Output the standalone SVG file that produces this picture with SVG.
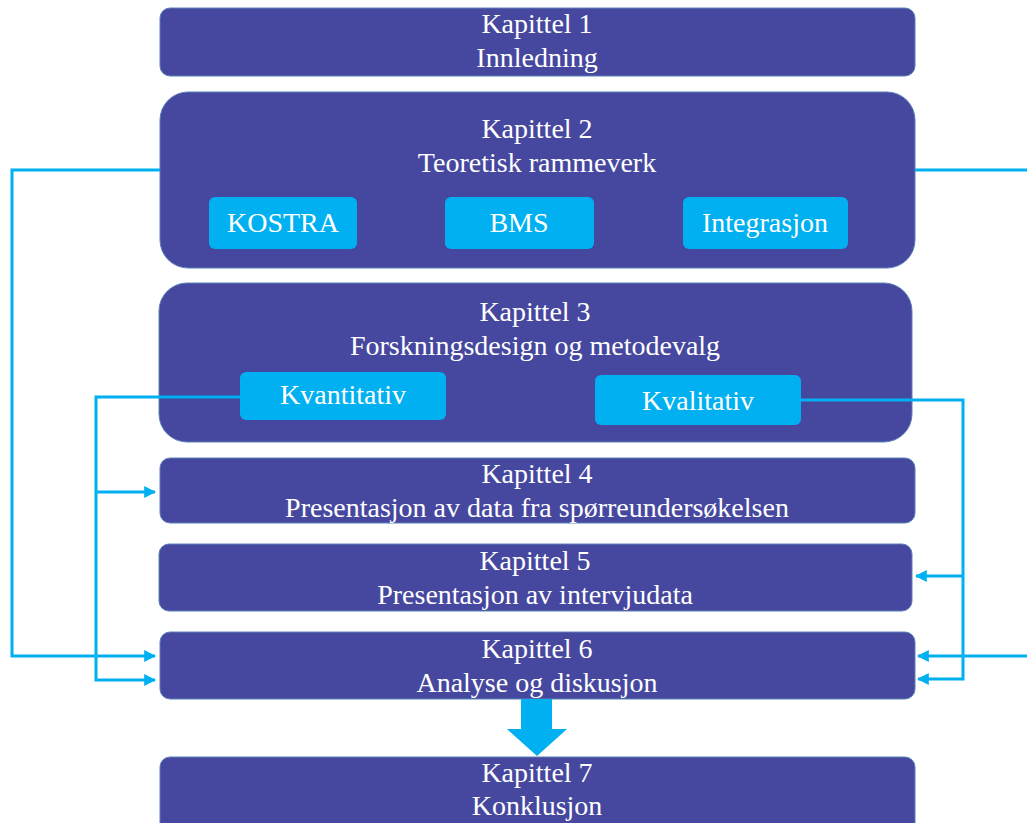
<svg xmlns="http://www.w3.org/2000/svg" width="1027" height="823" viewBox="0 0 1027 823">
<style>
.box{fill:#4648A0;stroke:#5A80B8;stroke-width:1}
.sub{fill:#00B0F0}
.t{font-family:"Liberation Serif","Times New Roman",serif;font-size:28px;fill:#fff;text-anchor:middle}
.c{fill:none;stroke:#00B0F0;stroke-width:3}
</style>
<defs>
<marker id="ah" viewBox="0 0 10 10" refX="9" refY="5" markerWidth="4" markerHeight="4" markerUnits="strokeWidth" orient="auto">
<path d="M0,0 L10,5 L0,10 Z" fill="#00B0F0"/>
</marker>
</defs>
<rect width="1027" height="823" fill="#fff"/>
<g id="k1">
<rect class="box" x="160" y="8" width="755" height="68" rx="10"/>
<text class="t" x="537" y="33">Kapittel 1</text>
<text class="t" x="537" y="67">Innledning</text>
</g>
<g id="k2">
<rect class="box" x="160" y="92" width="755" height="176" rx="28"/>
<text class="t" x="537" y="138">Kapittel 2</text>
<text class="t" x="537" y="172">Teoretisk rammeverk</text>
<g id="kostra"><rect class="sub" x="209" y="197" width="148" height="52" rx="6"/><text class="t" x="283" y="232">KOSTRA</text></g>
<g id="bms"><rect class="sub" x="445" y="197" width="149" height="52" rx="6"/><text class="t" x="519" y="232">BMS</text></g>
<g id="integrasjon"><rect class="sub" x="683" y="197" width="165" height="52" rx="6"/><text class="t" x="765" y="232">Integrasjon</text></g>
</g>
<g id="k3">
<rect class="box" x="159" y="283" width="753" height="159" rx="28"/>
<text class="t" x="535" y="321">Kapittel 3</text>
<text class="t" x="535" y="355">Forskningsdesign og metodevalg</text>
<g id="kvantitativ"><rect class="sub" x="240" y="372" width="206" height="48" rx="6"/><text class="t" x="343" y="404">Kvantitativ</text></g>
<g id="kvalitativ"><rect class="sub" x="595" y="375" width="206" height="50" rx="6"/><text class="t" x="698" y="410">Kvalitativ</text></g>
</g>
<g id="k4">
<rect class="box" x="160" y="458" width="755" height="65" rx="10"/>
<text class="t" x="537" y="483">Kapittel 4</text>
<text class="t" x="537" y="517">Presentasjon av data fra spørreundersøkelsen</text>
</g>
<g id="k5">
<rect class="box" x="159" y="544" width="753" height="67" rx="10"/>
<text class="t" x="535" y="570">Kapittel 5</text>
<text class="t" x="535" y="604">Presentasjon av intervjudata</text>
</g>
<g id="k6">
<rect class="box" x="160" y="632" width="755" height="67" rx="10"/>
<text class="t" x="537" y="658">Kapittel 6</text>
<text class="t" x="537" y="692">Analyse og diskusjon</text>
</g>
<g id="k7">
<rect class="box" x="160" y="757" width="755" height="80" rx="10"/>
<text class="t" x="537" y="782">Kapittel 7</text>
<text class="t" x="537" y="815">Konklusjon</text>
</g>
<g id="connectors">
<polyline class="c" points="160,170 12,170 12,656 155,656" marker-end="url(#ah)"/>
<polyline class="c" points="240,397 96,397 96,680 155,680" marker-end="url(#ah)"/>
<polyline class="c" points="96,492 155,492" marker-end="url(#ah)"/>
<polyline class="c" points="801,400 963,400 963,679 918,679" marker-end="url(#ah)"/>
<polyline class="c" points="963,576 916,576" marker-end="url(#ah)"/>
<polyline class="c" points="915,170 1027,170"/>
<polyline class="c" points="1027,656 918,656" marker-end="url(#ah)"/>
<path d="M521,699 H552 V729 H567 L537,756 L507,729 H521 Z" fill="#00B0F0"/>
</g>
</svg>
